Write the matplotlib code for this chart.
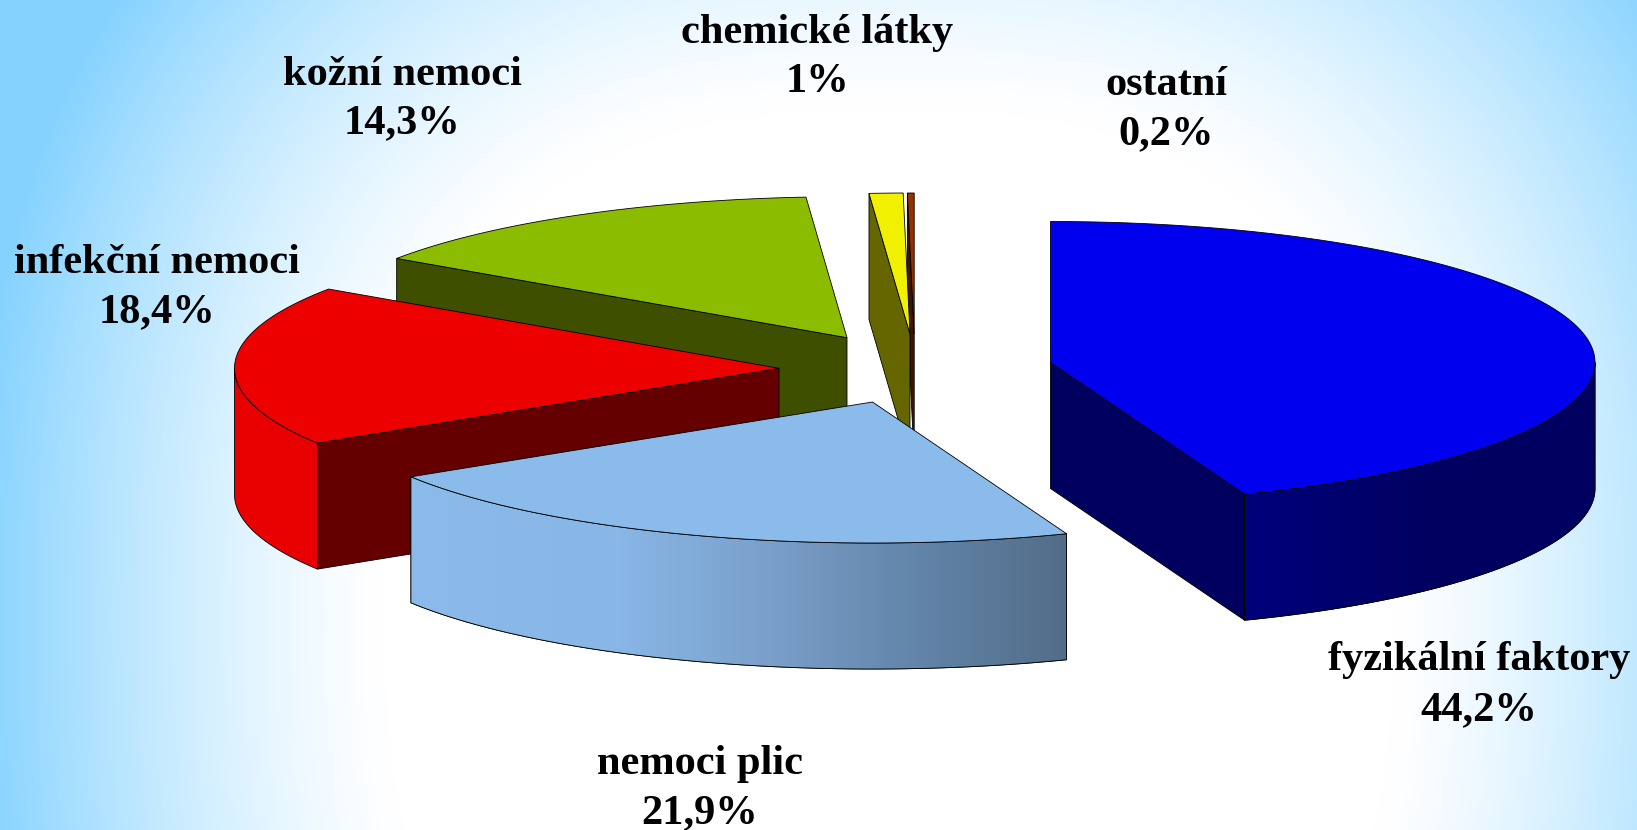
import numpy as np
import matplotlib
matplotlib.use("Agg")
import matplotlib.pyplot as plt
from matplotlib.patches import Polygon
from matplotlib.colors import LinearSegmentedColormap

# Data
categories = ["fyzikální faktory", "nemoci plic", "infekční nemoci", "kožní nemoci", "chemické látky", "ostatní"]
values = [44.2, 21.9, 18.4, 14.3, 1.0, 0.2]
value_labels = ["44,2%", "21,9%", "18,4%", "14,3%", "1%", "0,2%"]

# Slice placement (exploded vertex of every slice, in pixels)
vertex_x = [1050.5, 872.5, 779, 847, 910, 914.2]
vertex_y = [362.5, 402, 368.3, 337.7, 334, 334]
rx, ry, depth = 544.5, 141, 126

# Colours
top_colors = ["#0000ee", "#8bbbeb", "#ec0000", "#8cbc00", "#f0f000", "#933100"]
cut_colors = ["#00005f", "#8bbbeb", "#640000", "#3f4f00", "#666600", "#3f1500"]
rim_colors = ["#000068", "#8bbbeb", "#e80000", "#3f4f00", "#666600", "#3f1500"]

# Label placement: centre x, baseline of name, baseline of value
label_x = [1479, 700, 157, 402, 817.5, 1166.5]
label_y1 = [670, 774, 273, 85, 43, 95]
label_y2 = [720, 823, 322, 133, 92, 144]

W, H = 1637, 830
fig = plt.figure(figsize=(W / 100, H / 100), dpi=100)
ax = fig.add_axes([0, 0, 1, 1])

# Background: white blob fading to light blue towards the edges
xx, yy = np.meshgrid(np.arange(W), np.arange(H))
u = np.abs(xx - 889) / 504
v = np.abs(yy - 620) / 510
t = np.clip((u ** 2.6 + v ** 2.6) ** (1 / 2.6) - 1, 0, None)
d = np.clip(159 * t ** 1.3, 0, 122)
bg = np.dstack([255 - d, 255 - d * 0.366, np.full(d.shape, 255.0)]) / 255
ax.imshow(bg, extent=(0, W, H, 0), aspect="auto", zorder=0)


def pt(i, a):
    a = np.radians(a)
    return vertex_x[i] + rx * np.cos(a), vertex_y[i] - ry * np.sin(a)


def arc(i, a0, a1, n=80):
    aa = np.radians(np.linspace(a0, a1, n))
    return np.column_stack([vertex_x[i] + rx * np.cos(aa), vertex_y[i] - ry * np.sin(aa)])


def draw_wall(pts, color, z):
    pts = np.asarray(pts)
    low = pts[::-1] + [0, depth]
    ax.add_patch(Polygon(np.vstack([pts, low]), closed=True, facecolor=color,
                         edgecolor="black", linewidth=0.6, zorder=z))


# Angles go clockwise from the top, back slices are painted first
starts = 90 - 3.6 * np.concatenate([[0], np.cumsum(values)[:-1]])
ends = starts - 3.6 * np.array(values)
lb_cmap = LinearSegmentedColormap.from_list(
    "lb", [(0, "#8bbbeb"), (0.32, "#88b6e6"), (0.55, "#7a9fc9"), (0.75, "#6487ac"), (1, "#526d88")])
blue_cmap = LinearSegmentedColormap.from_list("blue", ["#00007c", "#000062", "#000060"])

for z, i in enumerate([5, 4, 3, 2, 1, 0]):
    base = 10 + z * 10
    vertex = (vertex_x[i], vertex_y[i])
    a0, a1 = starts[i], ends[i]

    if np.cos(np.radians(a0)) < 0:
        draw_wall([vertex, pt(i, a0)], cut_colors[i], base)
    if np.cos(np.radians(a1)) > 0:
        draw_wall([vertex, pt(i, a1)], cut_colors[i], base)

    # Outer wall, only its front part can be seen
    hi, lo = min(a0, 0), max(a1, -180)
    if hi > lo:
        rim = arc(i, hi, lo)
        draw_wall(rim, rim_colors[i], base + 1)
        cmap = {0: blue_cmap, 1: lb_cmap}.get(i)
        if cmap is not None:
            x0, x1 = rim[:, 0].min(), rim[:, 0].max()
            grad = np.linspace(0, 1, 256).reshape(1, -1)
            im = ax.imshow(grad, cmap=cmap, extent=(x0, x1, rim[:, 1].max() + depth, rim[:, 1].min()),
                           aspect="auto", zorder=base + 2)
            clip = Polygon(np.vstack([rim, rim[::-1] + [0, depth]]), closed=True,
                           facecolor="none", edgecolor="black", linewidth=0.6, zorder=base + 3)
            ax.add_patch(clip)
            im.set_clip_path(clip)

    top = np.vstack([[vertex], arc(i, a0, a1, 160)])
    ax.add_patch(Polygon(top, closed=True, facecolor=top_colors[i], edgecolor="black",
                         linewidth=0.6, zorder=base + 4))

for i in range(len(categories)):
    ax.text(label_x[i], label_y1[i], categories[i], ha="center", va="baseline", fontsize=30.5,
            fontweight="bold", family="Liberation Serif", color="black", zorder=200)
    ax.text(label_x[i], label_y2[i], value_labels[i], ha="center", va="baseline", fontsize=30.5,
            fontweight="bold", family="Liberation Serif", color="black", zorder=200)

ax.set_xlim(0, W)
ax.set_ylim(H, 0)
ax.axis("off")
fig.savefig("out.png", dpi=100)
